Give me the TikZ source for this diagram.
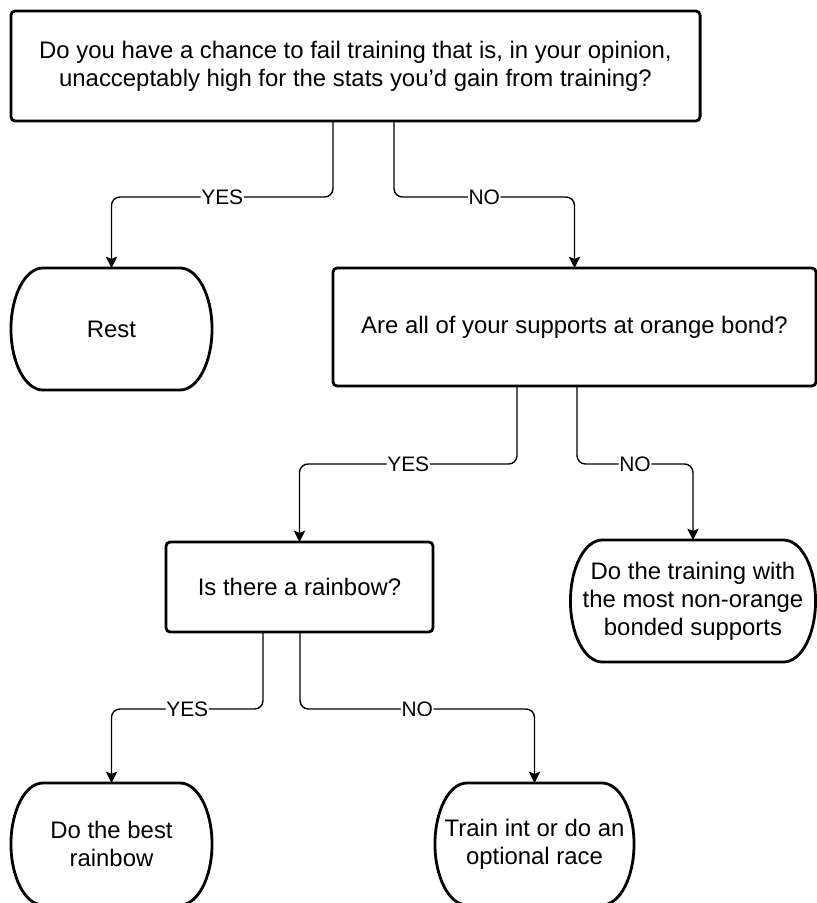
\documentclass[tikz,border=0pt]{standalone}
\usepackage{fontspec}
\setmainfont{Liberation Sans}
\usetikzlibrary{arrows.meta,calc}

\begin{document}
\begin{tikzpicture}[
  x=0.025cm, y=-0.025cm,
  question/.style={rectangle, rounded corners=3pt, draw, line width=2pt, align=center, font=\fontsize{17}{19.9}\selectfont, inner sep=0pt, outer sep=0pt},
  ending/.style={rectangle, minimum height=3.05cm, align=center, font=\fontsize{17}{19.9}\selectfont, inner sep=0pt, outer sep=0pt},
  arrow/.style={-{Stealth[length=8pt, width=8pt, inset=1.5pt]}, line width=1pt, rounded corners=6pt},
  answer/.style={fill=white, font=\fontsize{14.9}{16}\selectfont, inner sep=0.5pt}
]
\useasboundingbox (0,0) rectangle (817,903);

\node[question, minimum width=17.225cm, minimum height=2.75cm] (top) at (355.5,66) {Do you have a chance to fail training that is, in your opinion,\\unacceptably high for the stats you'd gain from training?};
\node[ending, minimum width=5.025cm] (rest) at (111.5,329) {Rest};
\node[question, minimum width=12.075cm, minimum height=2.95cm] (orange) at (574.5,327) {Are all of your supports at orange bond?};
\node[question, minimum width=6.675cm, minimum height=2.25cm] (rainbow) at (299.5,587) {Is there a rainbow?};
\node[ending, minimum width=6.125cm] (most) at (693,601) {Do the training with\\the most non-orange\\bonded supports};
\node[ending, minimum width=5.025cm] (best) at (111.5,844) {Do the best\\rainbow};
\node[ending, minimum width=4.975cm] (race) at (534.5,844) {Train int or do an\\optional race};

\foreach \n in {rest,most,best,race}
  \draw[line width=2pt] ($(\n.north west)+(32,0)$) -- ($(\n.north east)+(-32,0)$)
    arc[start angle=90, end angle=-90, x radius=0.8cm, y radius=1.525cm]
    -- ($(\n.south west)+(32,0)$)
    arc[start angle=270, end angle=90, x radius=0.8cm, y radius=1.525cm] -- cycle;

\draw[arrow] ($(top.south)+(-22.5,0)$) -- ++(0,76) -| node[answer, pos=0.25] {YES} (rest.north);
\draw[arrow] ($(top.south)+(38.5,0)$) -- ++(0,76) -| node[answer, pos=0.25] {NO} (orange.north);
\draw[arrow] ($(orange.south)+(-57.5,0)$) -- ++(0,78) -| node[answer, pos=0.25] {YES} (rainbow.north);
\draw[arrow] ($(orange.south)+(2.5,0)$) -- ++(0,78) -| node[answer, pos=0.25] {NO} (most.north);
\draw[arrow] ($(rainbow.south)+(-36.5,0)$) -- ++(0,77) -| node[answer, pos=0.25] {YES} (best.north);
\draw[arrow] ($(rainbow.south)+(0.5,0)$) -- ++(0,77) -| node[answer, pos=0.25] {NO} (race.north);
\end{tikzpicture}
\end{document}
